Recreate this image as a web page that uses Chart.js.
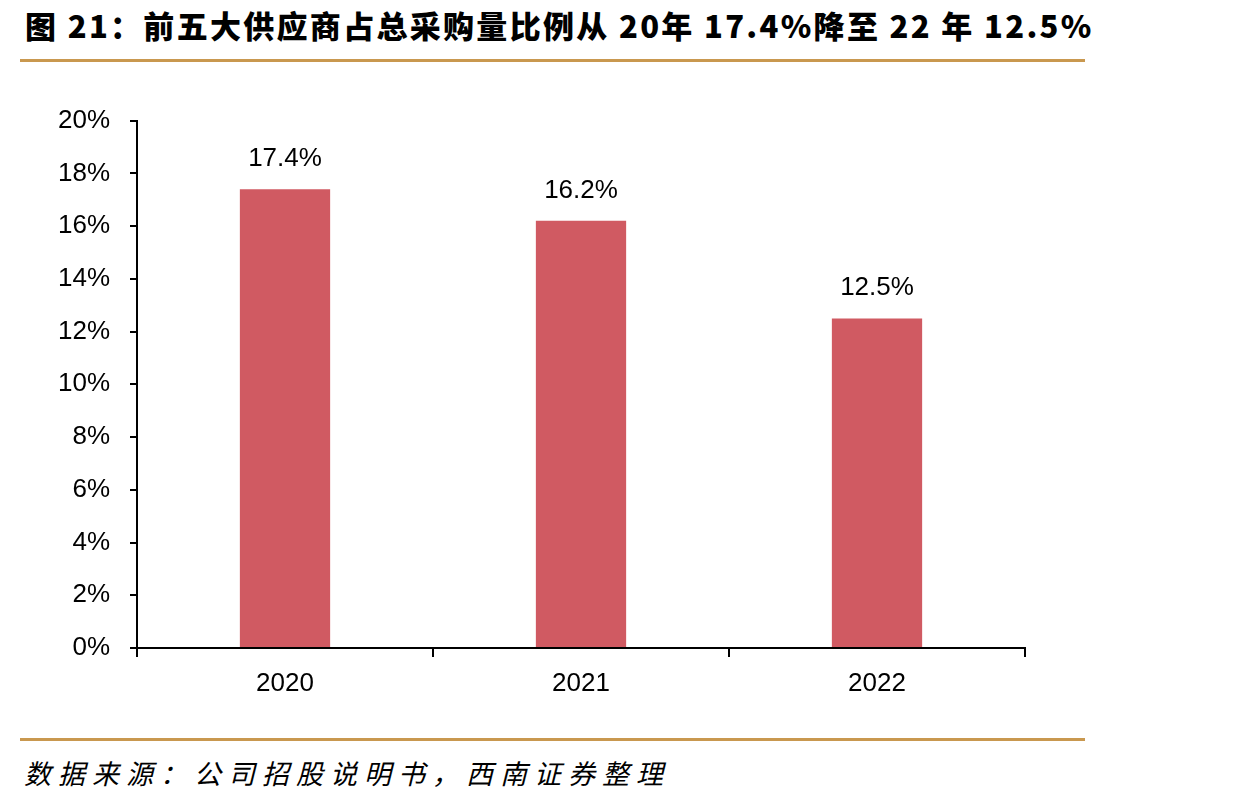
<!DOCTYPE html>
<html>
<head>
<meta charset="utf-8">
<script src="https://cdn.jsdelivr.net/npm/chart.js@4"></script>
<style>
  body { margin: 0; background: #fff; width: 1239px; height: 808px; position: relative; overflow: hidden; }
  #title { position: absolute; left: 25px; top: 2px; font-family: "Noto Sans CJK SC"; font-weight: 900; font-size: 31px; color: #000; white-space: nowrap; letter-spacing: 2.3px; }
  .rule { position: absolute; left: 20px; width: 1065px; height: 3px; background: #C9984F; }
  #source { position: absolute; left: 24px; top: 753px; font-family: "Noto Sans CJK SC"; font-style: italic; font-size: 27px; color: #000; letter-spacing: 7px; }
  #wrap { position: absolute; left: 0; top: 85px; width: 1100px; height: 635px; }
</style>
</head>
<body>
<div id="title">图 21：前五大供应商占总采购量比例从 20年 17.4%降至 22 年 12.5%</div>
<div class="rule" style="top:59px"></div>
<div id="wrap"><canvas id="grafico"></canvas></div>
<div class="rule" style="top:738px"></div>
<div id="source">数据来源：公司招股说明书，西南证券整理</div>
<script>
const anos = ['2020', '2021', '2022'];
const proporcao = [17.4, 16.2, 12.5];
const rotulos = ['17.4%', '16.2%', '12.5%'];

const rotuloPlugin = {
    id: 'rotulos',
    afterDatasetsDraw(chart) {
        const ctx = chart.ctx;
        const meta = chart.getDatasetMeta(0);
        ctx.save();
        ctx.font = '26px "Liberation Sans", Arial';
        ctx.fillStyle = '#000';
        ctx.textAlign = 'center';
        ctx.textBaseline = 'alphabetic';
        meta.data.forEach((bar, i) => {
            ctx.fillText(rotulos[i], bar.x, bar.y - 23);
        });
        ctx.restore();
    }
};

const ctx = document.getElementById('grafico').getContext('2d');
new Chart(ctx, {
    type: 'bar',
    data: {
        labels: anos,
        datasets: [{
            data: proporcao,
            backgroundColor: '#D05A62',
            barPercentage: 0.305,
            categoryPercentage: 1
        }]
    },
    options: {
        responsive: true,
        maintainAspectRatio: false,
        animation: false,
        layout: { padding: { top: 6, right: 75, bottom: 0, left: 0 } },
        plugins: { legend: { display: false }, tooltip: { enabled: false } },
        scales: {
            x: {
                afterFit(scale) { scale.height = 72; },
                grid: { display: true, drawOnChartArea: false, tickLength: 9, color: '#000', lineWidth: 2 },
                border: { color: '#000', width: 2 },
                ticks: { color: '#000', padding: 11, font: { family: '"Liberation Sans", Arial', size: 26 } }
            },
            y: {
                min: 0,
                max: 20,
                afterFit(scale) { scale.width = 137; },
                grid: { display: true, drawOnChartArea: false, tickLength: 7, color: '#000', lineWidth: 2 },
                border: { color: '#000', width: 2 },
                ticks: {
                    stepSize: 2,
                    color: '#000',
                    padding: 20,
                    font: { family: '"Liberation Sans", Arial', size: 26 },
                    callback: v => v + '%'
                }
            }
        }
    },
    plugins: [rotuloPlugin]
});
</script>
</body>
</html>
